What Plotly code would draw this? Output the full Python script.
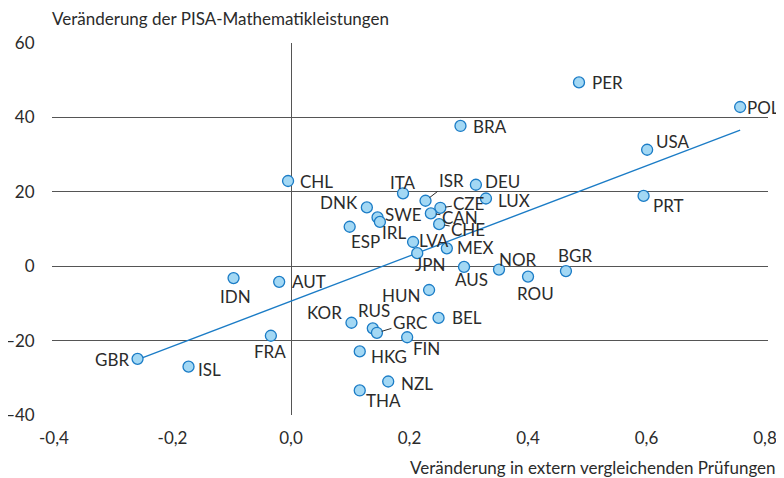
import plotly.graph_objects as go

countries = ["PER","POL","BRA","USA","PRT","CHL","DEU","LUX","ITA","ISR","CZE","DNK","SWE","IRL","CAN","CHE","ESP","LVA","JPN","MEX","AUS","NOR","ROU","BGR","IDN","AUT","HUN","KOR","RUS","GRC","BEL","FIN","FRA","HKG","NZL","THA","GBR","ISL"]
x_ext = [0.486,0.758,0.286,0.601,0.595,-0.005,0.312,0.329,0.189,0.227,0.252,0.128,0.146,0.150,0.236,0.250,0.099,0.206,0.213,0.263,0.292,0.351,0.400,0.464,-0.097,-0.020,0.233,0.102,0.138,0.145,0.249,0.196,-0.034,0.116,0.164,0.116,-0.259,-0.173]
y_pisa = [49.4,42.8,37.7,31.3,18.9,22.9,21.9,18.2,19.6,17.6,15.7,15.8,13.1,11.9,14.2,11.3,10.6,6.5,3.5,4.8,-0.2,-0.9,-2.8,-1.3,-3.2,-4.2,-6.4,-15.2,-16.7,-17.9,-13.9,-19.1,-18.7,-22.9,-31.0,-33.4,-24.9,-27.0]

trend_x = [-0.259, 0.758]
trend_y = [-25.1, 36.6]

x_ticks = [-0.4, -0.2, 0.0, 0.2, 0.4, 0.6, 0.8]
x_ticklabels = ["-0,4", "-0,2", "0,0", "0,2", "0,4", "0,6", "0,8"]
y_ticks = [-40, -20, 0, 20, 40, 60]

y_title = "Veränderung der PISA-Mathematikleistungen"
x_title = "Veränderung in extern vergleichenden Prüfungen"

# label placement: (xanchor, xshift, yshift)
label_pos = {
    "PER": ("left", 11, 0), "POL": ("left", 5, -1), "BRA": ("left", 11, -1),
    "USA": ("left", 7, 8), "PRT": ("left", 7, -10), "CHL": ("left", 10, 0),
    "DEU": ("left", 7, 3), "LUX": ("left", 10, -2), "ITA": ("center", 0, 11),
    "DNK": ("right", -7, 5), "SWE": ("left", 5, 3), "IRL": ("left", 0, -11),
    "ESP": ("left", -1, -15), "LVA": ("left", 4, 2), "JPN": ("left", -4, -11),
    "MEX": ("left", 8, 1), "AUS": ("center", 7, -13), "NOR": ("left", -2, 10),
    "ROU": ("center", 7, -17), "BGR": ("center", 9, 16), "IDN": ("center", 2, -18),
    "AUT": ("left", 11, 0), "FRA": ("center", -1, -16), "GBR": ("right", -7, -1),
    "ISL": ("left", 7, -3), "KOR": ("right", -7, 10), "RUS": ("center", 1, 18),
    "BEL": ("left", 11, 0), "FIN": ("left", 4, -11), "HUN": ("right", -7, -5),
    "HKG": ("left", 9, -5), "NZL": ("left", 11, -2), "THA": ("left", 4, -10),
}
# leader-line labels: (ax, ay) screen pixel offset of text centre
leader_pos = {"ISR": (26, -20), "CZE": (29, -4), "CAN": (29, 4), "CHE": (29, 5), "GRC": (33, -10)}

FONT = "Lato, 'Open Sans', sans-serif"
FS = 17
TXT = "#2b2b2b"

fig = go.Figure()
fig.add_trace(go.Scatter(x=trend_x, y=trend_y, mode="lines",
                         line=dict(color="#1b7cc6", width=1.3), hoverinfo="skip", showlegend=False))
fig.add_trace(go.Scatter(x=x_ext, y=y_pisa, mode="markers", text=countries,
                         marker=dict(size=11, color="#a3d8f4", line=dict(color="#1b7cc6", width=1.3)),
                         showlegend=False))

annotations = []
for c, xv, yv in zip(countries, x_ext, y_pisa):
    if c in leader_pos:
        ax, ay = leader_pos[c]
        annotations.append(dict(x=xv, y=yv, text=c, showarrow=True, ax=ax, ay=ay,
                                arrowhead=0, arrowwidth=1, arrowcolor=TXT, standoff=5,
                                font=dict(family=FONT, size=FS, color=TXT)))
    else:
        xa, xs, ys = label_pos[c]
        annotations.append(dict(x=xv, y=yv, text=c, showarrow=False, xanchor=xa, yanchor="middle",
                                xshift=xs, yshift=ys, font=dict(family=FONT, size=FS, color=TXT)))

annotations.append(dict(xref="paper", yref="paper", x=0, y=1, xanchor="left", yanchor="middle",
                        xshift=-2, yshift=25, text=y_title, showarrow=False, font=dict(family=FONT, size=FS, color=TXT)))
annotations.append(dict(xref="paper", yref="paper", x=1, y=0, xanchor="right", yanchor="middle",
                        xshift=10, yshift=-52, text=x_title, showarrow=False, font=dict(family=FONT, size=FS, color=TXT)))

# page body has an 8px margin: figure is sized/margined to compensate
fig.update_layout(
    width=776, height=470,
    margin=dict(l=44, r=16, t=35, b=63),
    plot_bgcolor="white", paper_bgcolor="white",
    font=dict(family=FONT, size=FS, color=TXT),
    annotations=annotations,
    xaxis=dict(range=[-0.4034, 0.805], tickvals=x_ticks, ticktext=x_ticklabels, automargin=False,
               showgrid=False, zeroline=True, zerolinecolor="#555555", zerolinewidth=1,
               showline=False, ticks="outside", ticklen=8, tickcolor="rgba(0,0,0,0)"),
    yaxis=dict(range=[-40, 60], tickvals=y_ticks, showgrid=True, gridcolor="#555555", gridwidth=1,
               automargin=False, zeroline=False, showline=False, ticks="outside", ticklen=13,
               tickcolor="rgba(0,0,0,0)"),
)

fig.write_html("out.html")
